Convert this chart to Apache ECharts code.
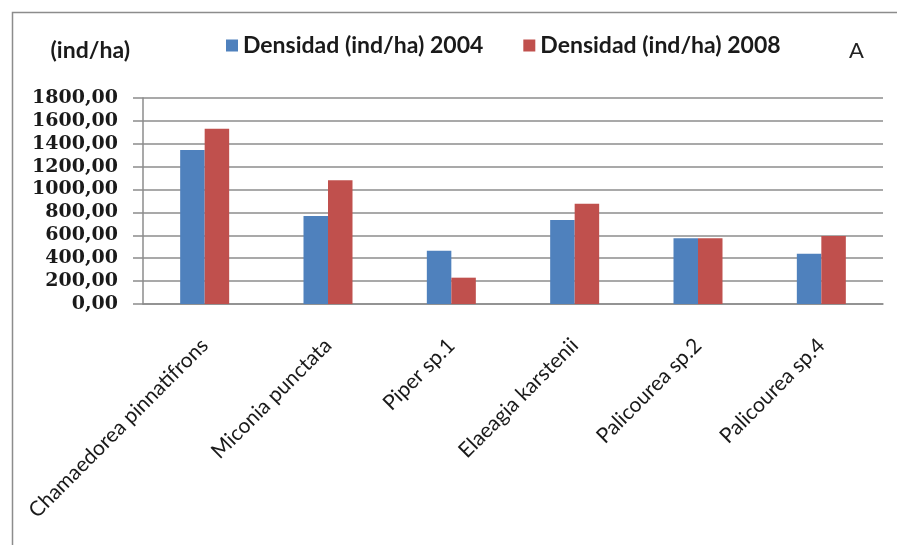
<!DOCTYPE html>
<html>
<head>
<meta charset="utf-8">
<script src="https://cdn.jsdelivr.net/npm/echarts@6/dist/echarts.min.js"></script>
<style>
  html, body { margin: 0; padding: 0; background: #fff; }
  #chart { width: 897px; height: 545px; }
</style>
</head>
<body>
<div id="chart"></div>
<script>
// Species sampled and their density (individuals per hectare)
const species = [
  'Chamaedorea pinnatifrons',
  'Miconia punctata',
  'Piper sp.1',
  'Elaeagia karstenii',
  'Palicourea sp.2',
  'Palicourea sp.4'
];
const density2004 = [1345, 770, 465, 735, 575, 440];
const density2008 = [1532, 1082, 230, 876, 575, 595];
const seriesNames = ['Densidad (ind/ha) 2004', 'Densidad (ind/ha) 2008'];
const yTicks = { min: 0, max: 1800, step: 200 };

const chart = echarts.init(document.getElementById('chart'), null, { renderer: 'canvas' });

const sansFont = 'Lato';
const serifFont = '"DejaVu Serif"';

chart.setOption({
  backgroundColor: '#ffffff',
  animation: false,
  graphic: [{
    type: 'rect',
    left: 10, top: 10,
    shape: { width: 900, height: 560 },
    style: { fill: 'none', stroke: '#8c8c8c', lineWidth: 1.5 },
    z: -1
  }],
  title: {
    text: 'A',
    right: 33, top: 40,
    padding: 0,
    textStyle: { fontFamily: sansFont, fontSize: 22, fontWeight: 'normal', color: '#222' }
  },
  legend: {
    left: 226, top: 34,
    padding: 0,
    itemWidth: 12, itemHeight: 12,
    itemGap: 40,
    icon: 'rect',
    textStyle: { fontFamily: sansFont, fontSize: 23, fontWeight: 'bold', color: '#1a1a1a' },
    data: seriesNames
  },
  grid: { left: 143, right: 14, top: 98, bottom: 241, containLabel: false },
  xAxis: {
    type: 'category',
    data: species,
    axisLine: { lineStyle: { color: '#8c8c8c', width: 1.5 } },
    axisTick: { show: false },
    axisLabel: {
      interval: 0, rotate: 45, margin: 38,
      fontFamily: sansFont, fontSize: 21, color: '#1a1a1a'
    }
  },
  yAxis: {
    type: 'value',
    min: yTicks.min, max: yTicks.max, interval: yTicks.step,
    name: '(ind/ha)',
    nameLocation: 'end',
    nameGap: 47,
    nameTextStyle: {
      fontFamily: sansFont, fontSize: 23, fontWeight: 'bold', color: '#1a1a1a',
      align: 'right', verticalAlign: 'middle', padding: [0, 13, 0, 0]
    },
    axisLine: { show: true, lineStyle: { color: '#8c8c8c', width: 1.5 } },
    axisTick: { show: true, length: 10, inside: false, lineStyle: { color: '#8c8c8c', width: 1.5 } },
    splitLine: { lineStyle: { color: '#8c8c8c', width: 1.5 } },
    axisLabel: {
      margin: 25,
      showMinLabel: true, showMaxLabel: true, hideOverlap: false,
      fontFamily: serifFont, fontSize: 19, fontWeight: 'bold', color: '#1a1a1a',
      formatter: v => v.toFixed(2).replace('.', ',')
    }
  },
  series: [
    {
      name: seriesNames[0], type: 'bar', data: density2004,
      barWidth: 24.5, barGap: '0%',
      itemStyle: { color: '#4f81bd' }
    },
    {
      name: seriesNames[1], type: 'bar', data: density2008,
      barWidth: 24.5, barGap: '0%',
      itemStyle: { color: '#c0504d' }
    }
  ]
});
</script>
</body>
</html>
